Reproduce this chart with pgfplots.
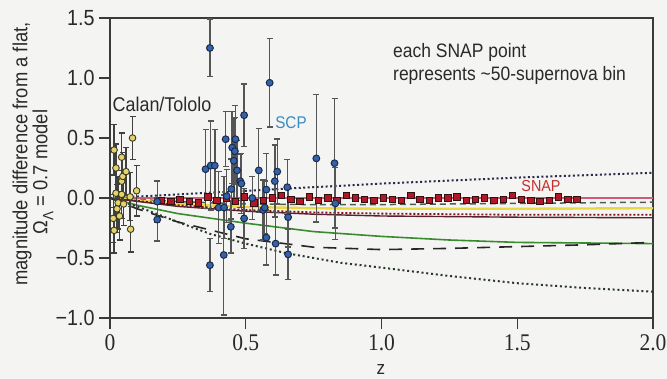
\documentclass[border=0pt]{standalone}
\usepackage{pgfplots}
\pgfplotsset{compat=1.18}
\usepackage{pgfplotstable}
\usepackage{fontspec}
\setmainfont{Liberation Sans}
\newfontfamily\cond[FakeStretch=0.9]{Liberation Sans}
\newfontfamily\serifx[FakeStretch=0.9]{Liberation Serif}

\definecolor{bg}{HTML}{F4F4F2}
\definecolor{axc}{HTML}{3A3A3A}
\definecolor{txt}{HTML}{2A2A2A}
\definecolor{ebar}{HTML}{555555}
\definecolor{calfill}{HTML}{E4D26A}
\definecolor{caledge}{HTML}{3A3820}
\definecolor{scpfill}{HTML}{3262AA}
\definecolor{scpedge}{HTML}{1A2A4A}
\definecolor{snapfill}{HTML}{B01828}
\definecolor{snapedge}{HTML}{301010}
\definecolor{scptext}{HTML}{3A8CC0}
\definecolor{snaptext}{HTML}{C43030}
\definecolor{pinkline}{HTML}{D25A7A}
\definecolor{ylwline}{HTML}{E8D840}
\definecolor{grnline}{HTML}{3A8A30}
\definecolor{dkred}{HTML}{5A2030}
\definecolor{navydot}{HTML}{2A2A4A}
\definecolor{grndot}{HTML}{2A3A2A}
\definecolor{gdash}{HTML}{4E5E4E}

\pgfplotstableread{
z v e
0.012 -0.17 0.20
0.015 0.40 0.21
0.015 -0.27 0.19
0.022 0.25 0.20
0.022 0.04 0.20
0.026 -0.09 0.20
0.030 -0.04 0.22
0.035 -0.15 0.20
0.043 0.34 0.20
0.043 0.14 0.20
0.043 0.03 0.20
0.047 0.18 0.20
0.050 -0.05 0.18
0.059 0.22 0.20
0.074 0.01 0.20
0.076 -0.26 0.19
0.083 0.50 0.18
0.098 0.06 0.21
}\calan

\pgfplotstableread{
z v e
0.174 -0.03 0.17
0.174 -0.18 0.18
0.352 0.24 0.33
0.368 1.25 0.24
0.371 0.27 0.37
0.386 0.27 0.30
0.368 -0.56 0.22
0.400 -0.08 0.30
0.420 -0.08 0.26
0.419 -0.475 0.50
0.426 0.49 0.23
0.430 0.015 0.22
0.445 -0.24 0.22
0.447 0.075 0.25
0.450 0.42 0.30
0.456 0.31 0.35
0.460 0.39 0.28
0.462 0.49 0.28
0.468 0.23 0.25
0.480 0.14 0.22
0.484 0.12 0.25
0.494 0.69 0.26
0.494 -0.17 0.25
0.524 0.00 0.18
0.548 0.23 0.35
0.564 -0.10 0.25
0.570 -0.08 0.22
0.576 0.07 0.30
0.576 -0.33 0.23
0.588 0.96 0.37
0.607 0.14 0.30
0.610 -0.38 0.26
0.616 0.22 0.27
0.653 0.09 0.23
0.656 -0.16 0.25
0.656 -0.47 0.21
0.760 0.33 0.53
0.827 0.29 0.54
0.830 -0.045 0.30
}\scp

\pgfplotstableread{
z v e
0.190 -0.02 0.02
0.224 -0.03 0.02
0.258 -0.01 0.02
0.292 -0.03 0.02
0.326 -0.04 0.02
0.360 0.01 0.02
0.394 -0.02 0.02
0.428 0.00 0.02
0.462 -0.03 0.02
0.496 0.01 0.02
0.530 -0.04 0.02
0.564 -0.02 0.02
0.598 0.00 0.02
0.632 0.02 0.02
0.666 -0.01 0.02
0.700 -0.03 0.02
0.734 0.01 0.02
0.768 -0.02 0.02
0.802 0.00 0.02
0.836 -0.02 0.02
0.870 0.02 0.02
0.904 0.00 0.02
0.938 -0.01 0.02
0.972 -0.02 0.02
1.006 0.00 0.02
1.040 -0.01 0.02
1.074 -0.02 0.02
1.108 0.02 0.02
1.142 -0.01 0.02
1.176 -0.02 0.02
1.210 0.00 0.02
1.244 0.00 0.02
1.278 0.01 0.02
1.312 -0.02 0.02
1.346 -0.01 0.02
1.380 0.00 0.02
1.414 -0.02 0.02
1.448 -0.01 0.02
1.482 0.02 0.02
1.516 -0.01 0.02
1.550 -0.02 0.02
1.584 -0.03 0.02
1.618 -0.02 0.02
1.652 0.01 0.02
1.686 -0.01 0.02
1.720 -0.01 0.02
}\snap

\begin{document}
\begin{tikzpicture}
\fill[bg] (0,0) rectangle (667bp,379bp);
\begin{axis}[
  at={(110bp,61bp)}, anchor=south west,
  scale only axis, width=543bp, height=300bp,
  xmin=0, xmax=2, ymin=-1, ymax=1.5,
  axis line style={axc, line width=1.4bp},
  tick align=outside, major tick length=11bp,
  tick style={axc, line width=1.3bp},
  xtick={0,0.5,1,1.5,2}, xticklabels={0,0.5,1.0,1.5,2.0},
  ytick={-1,-0.5,0,0.5,1,1.5}, yticklabels={−1.0,−0.5,0.0,0.5,1.0,1.5},
  xtick pos=bottom, ytick pos=left,
  yticklabel style={font=\fontsize{22}{22}\selectfont\cond, txt, xshift=-1bp},
  xticklabel style={font=\fontsize{24}{24}\selectfont\serifx, txt, yshift=-2bp},
  clip=false,
]
% model curves
\addplot[navydot, line width=2bp, dash pattern=on 2bp off 2.5bp] coordinates {(0,0) (0.25,0.03) (0.5,0.06) (0.75,0.09) (1.0,0.12) (1.25,0.145) (1.5,0.17) (1.75,0.19) (2.0,0.21)};
\addplot[pinkline, line width=1.4bp] coordinates {(0,0) (2,0)};
\addplot[gdash, line width=1.5bp, dash pattern=on 6bp off 4bp] coordinates {(0,0) (0.25,-0.03) (0.5,-0.05) (0.75,-0.055) (1,-0.055) (1.5,-0.045) (2,-0.035)};
\addplot[ylwline, line width=2.4bp] coordinates {(0,0) (0.25,-0.05) (0.5,-0.075) (0.75,-0.085) (1,-0.09) (1.5,-0.09) (2,-0.085)};
\addplot[snapfill!70!black, line width=1.8bp, dash pattern=on 2bp off 2bp] coordinates {(0,0) (0.25,-0.06) (0.5,-0.1) (0.75,-0.12) (1,-0.13) (1.5,-0.14) (2,-0.14)};
\addplot[dkred, line width=1.4bp] coordinates {(0,0) (0.25,-0.07) (0.5,-0.11) (0.75,-0.135) (1,-0.15) (1.5,-0.16) (2,-0.165)};
\addplot[grnline, line width=1.6bp] coordinates {(0,0) (0.1,-0.06) (0.25,-0.13) (0.5,-0.21) (0.75,-0.28) (1.0,-0.32) (1.25,-0.35) (1.5,-0.37) (1.75,-0.375) (2.0,-0.38)};
\addplot[black!85, line width=1.6bp, dash pattern=on 13bp off 9bp] coordinates {(0,0) (0.1,-0.09) (0.25,-0.2) (0.5,-0.34) (0.75,-0.41) (1.0,-0.43) (1.25,-0.42) (1.5,-0.405) (1.75,-0.39) (2.0,-0.37)};
\addplot[grndot, line width=2bp, dash pattern=on 2bp off 2.8bp] coordinates {(0,0) (0.1,-0.07) (0.25,-0.2) (0.37,-0.3) (0.5,-0.38) (0.65,-0.46) (0.85,-0.54) (1.0,-0.58) (1.25,-0.65) (1.5,-0.71) (1.75,-0.75) (2.0,-0.78)};
% SNAP
\addplot[only marks, mark=square*, mark size=3.2bp,
  mark options={fill=snapfill, draw=snapedge, line width=0.8bp},
  error bars/.cd, y dir=both, y explicit,
  error bar style={snapedge, line width=0.8bp},
  error mark options={rotate=90, mark size=2bp, snapedge}]
  table[x=z, y=v, y error=e] {\snap};
% Calan/Tololo
\addplot[only marks, mark=*, mark size=3.3bp,
  mark options={fill=calfill, draw=caledge, line width=0.9bp},
  error bars/.cd, y dir=both, y explicit,
  error bar style={ebar!75!black, line width=1.4bp},
  error mark options={rotate=90, mark size=3bp, ebar!75!black, line width=1.4bp}]
  table[x=z, y=v, y error=e] {\calan};
% SCP
\addplot[only marks, mark=*, mark size=3.4bp,
  mark options={fill=scpfill, draw=scpedge, line width=1bp},
  error bars/.cd, y dir=both, y explicit,
  error bar style={ebar, line width=1.4bp},
  error mark options={rotate=90, mark size=3bp, ebar, line width=1.4bp}]
  table[x=z, y=v, y error=e] {\scp};
\end{axis}
% texts
\node[txt, anchor=center, font=\fontsize{20}{20}\selectfont\cond] at (162bp,275bp) {Calan/Tololo};
\node[scptext, anchor=center, font=\fontsize{17}{17}\selectfont\cond] at (291bp,256bp) {SCP};
\node[snaptext, anchor=center, font=\fontsize{16}{16}\selectfont\cond] at (541bp,193bp) {SNAP};
\node[txt, anchor=west, font=\fontsize{19.5}{23}\selectfont\cond, align=left, inner sep=0pt] at (393bp,315bp) {each SNAP point\\represents \textasciitilde50-supernova bin};
\node[txt, rotate=90, font=\fontsize{20.5}{20.5}\selectfont\cond] at (22bp,225bp) {magnitude difference from a flat,};
\node[txt, rotate=90, font=\fontsize{20.5}{20.5}\selectfont\cond] at (43bp,207bp) {Ω\raisebox{-0.3em}{\fontsize{15}{15}\selectfont Λ} = 0.7 model};
\node[txt, anchor=base, inner sep=0pt, font=\fontsize{19}{19}\selectfont\cond] at (381bp,5bp) {z};
\pgfresetboundingbox
\path[use as bounding box] (0,0) rectangle (667bp,379bp);
\end{tikzpicture}
\end{document}
